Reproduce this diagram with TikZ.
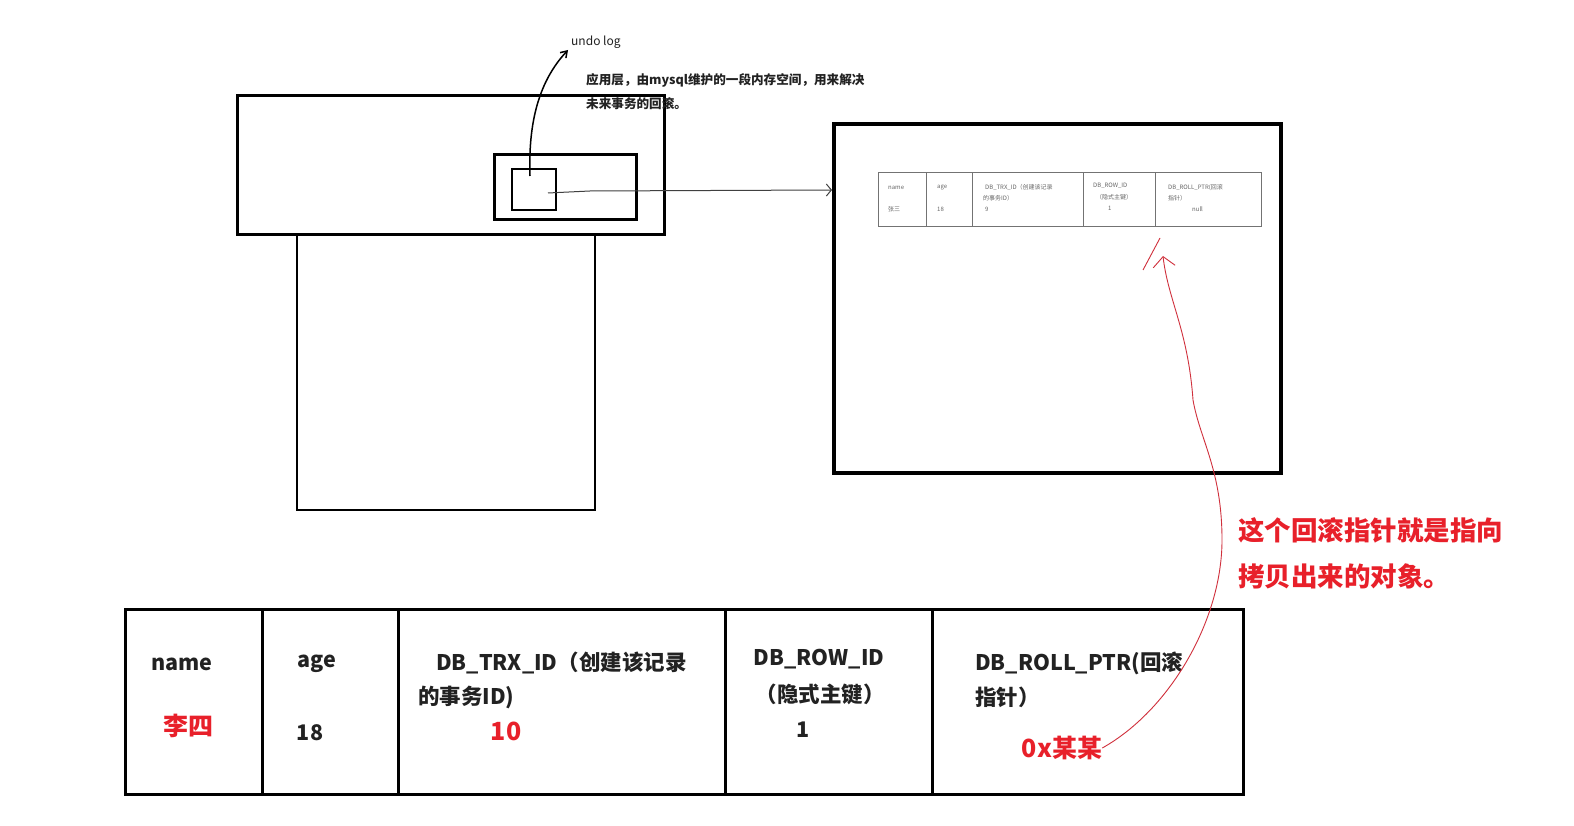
\documentclass[tikz,border=0pt]{standalone}
\usepackage{fontspec}
\setmainfont{Noto Sans CJK SC}
\usetikzlibrary{arrows.meta}
\definecolor{myred}{HTML}{E8202A}
\definecolor{curvered}{HTML}{D0303C}
\definecolor{txt}{HTML}{222222}
\tikzset{
  frame/.style={draw=black, inner sep=0pt, anchor=north west},
  cell/.style={draw=black, line width=3pt, inner sep=0pt, anchor=north west, minimum height=185pt},
  scell/.style={draw=black!55, line width=0.8pt, inner sep=0pt, anchor=north west, minimum height=54pt},
  bigtxt/.style={font=\fontsize{21.5}{25}\selectfont\bfseries, text=txt, inner sep=0pt},
  redtxt/.style={font=\fontsize{25}{29}\selectfont\bfseries, text=myred, inner sep=0pt},
  rednote/.style={font=\fontsize{26.5}{30}\selectfont\bfseries, text=myred, inner sep=0pt, anchor=west},
  smalltxt/.style={font=\fontsize{6}{7}\selectfont, text=black!60, inner sep=0pt, anchor=west},
  notetxt/.style={font=\fontsize{12.6}{15}\selectfont\bfseries, text=txt, inner sep=0pt, anchor=west},
}
\begin{document}
\begin{tikzpicture}[x=1pt,y=-1pt]
\useasboundingbox[fill=white] (0,0) rectangle (1574,826);

% left structure
\node[frame, line width=2pt, minimum width=298pt, minimum height=276pt] (lower) at (296,233) {};
\node[frame, line width=3pt, fill=white, minimum width=427pt, minimum height=139pt] (top) at (236,94) {};
\node[frame, line width=3pt, minimum width=142pt, minimum height=65pt] (inner) at (493,153) {};
\node[frame, line width=2pt, minimum width=44pt, minimum height=41pt] (sq) at (511,168) {};

% undo log label and note
\node[inner sep=0pt, anchor=west, font=\fontsize{12}{14}\selectfont, text=txt] (undo) at (571,42) {undo log};
\node[notetxt] (note1) at (586,80) {应用层，由mysql维护的一段内存空间，用来解决};
\node[notetxt] (note2) at (586,104) {未来事务的回滚。};

\coordinate (sqtop) at (530,176);
\coordinate (undotip) at (568,50);
\draw[line width=1.5pt, -{Straight Barb[length=6pt,width=8pt]}] (sqtop) .. controls (528,120) and (540,80) .. (undotip);

% right box
\node[frame, line width=4pt, minimum width=447pt, minimum height=349pt] (right) at (832,122) {};

\coordinate (sqc) at (548,193);
\draw[line width=1pt, black!75, -{Straight Barb[length=5pt,width=12pt]}] (sqc) -- (590,191) -- (right.west |- 0,190);

% small table
\node[scell, minimum width=48pt] (s1) at (878,172) {};
\node[scell, minimum width=46pt] (s2) at (926,172) {};
\node[scell, minimum width=111pt] (s3) at (972,172) {};
\node[scell, minimum width=72pt] (s4) at (1083,172) {};
\node[scell, minimum width=106pt] (s5) at (1155,172) {};

\node[smalltxt] (sn) at (888,188) {name};
\node[smalltxt] (sv1) at (888,209) {张三};
\node[smalltxt] (sa) at (937,188) {age};
\node[smalltxt] (sv2) at (937,209) {18};
\node[smalltxt] (st1) at (985,187) {DB\_TRX\_ID（创建该记录};
\node[smalltxt] (st2) at (983,198) {的事务ID）};
\node[smalltxt] (sv3) at (985,209) {9};
\node[smalltxt] (sr1) at (1093,186) {DB\_ROW\_ID};
\node[smalltxt] (sr2) at (1096,197) {（隐式主键）};
\node[smalltxt] (sv4) at (1108,208) {1};
\node[smalltxt] (sp1) at (1168,188) {DB\_ROLL\_PTR(回滚};
\node[smalltxt] (sp2) at (1168,198) {指针）};
\node[smalltxt] (sv5) at (1192,209) {null};

% big table
\node[cell, minimum width=137pt] (c1) at (124,608) {};
\node[cell, minimum width=136pt] (c2) at (261,608) {};
\node[cell, minimum width=327pt] (c3) at (397,608) {};
\node[cell, minimum width=207pt] (c4) at (724,608) {};
\node[cell, minimum width=311pt] (c5) at (931,608) {};

\node[bigtxt] (hname) at (182,664) {name};
\node[redtxt] (vname) at (188,726) {李四};
\node[bigtxt] (hage) at (317,664) {age};
\node[bigtxt] (vage) at (310,733) {18};
\node[bigtxt, anchor=west] (htrx1) at (436,663) {DB\_TRX\_ID（创建该记录};
\node[bigtxt, anchor=west] (htrx2) at (418,697) {的事务ID)};
\node[redtxt] (vtrx) at (506,731) {10};
\node[bigtxt] (hrow1) at (819,659) {DB\_ROW\_ID};
\node[bigtxt] (hrow2) at (820,694) {（隐式主键）};
\node[bigtxt] (vrow) at (803,730) {1};
\node[bigtxt, anchor=west] (hptr1) at (975,663) {DB\_ROLL\_PTR(回滚};
\node[bigtxt, anchor=west] (hptr2) at (975,697) {指针）};
\node[redtxt] (vptr) at (1062,748) {0x某某};

% red note
\node[rednote] (rn1) at (1238,530) {这个回滚指针就是指向};
\node[rednote] (rn2) at (1238,576) {拷贝出来的对象。};

% red curve
\coordinate (ptrtip) at (1163,256);
\draw[curvered, line width=0.9pt, -{Straight Barb[length=10pt,width=22pt]}]
  (vptr.east) .. controls (1170,710) and (1222,620) .. (1222,540)
  .. controls (1222,470) and (1200,440) .. (1193,400)
  .. controls (1188,330) and (1168,300) .. (ptrtip);
\draw[curvered, line width=0.9pt] (1143,270) -- (1160,238);
\end{tikzpicture}
\end{document}
